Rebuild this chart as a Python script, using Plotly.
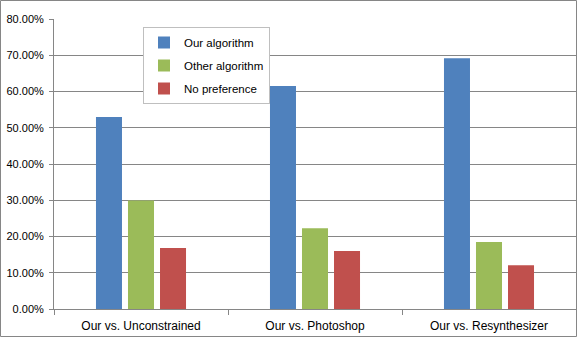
import plotly.graph_objects as go

categories = ["Our vs. Unconstrained", "Our vs. Photoshop", "Our vs. Resynthesizer"]
our_algorithm = [0.530, 0.615, 0.692]
other_algorithm = [0.299, 0.223, 0.185]
no_preference = [0.168, 0.160, 0.121]
y_ticks = [0, 0.1, 0.2, 0.3, 0.4, 0.5, 0.6, 0.7, 0.8]

series = [
    ("Our algorithm", our_algorithm, "#4F81BD"),
    ("Other algorithm", other_algorithm, "#9BBB59"),
    ("No preference", no_preference, "#C0504D"),
]

fig = go.Figure()
for name, vals, color in series:
    fig.add_trace(go.Bar(x=categories, y=vals, name=name, marker_color=color,
                         marker_line_width=0, legendgroup=name))

W, H = 577, 337
L, R, T, B = 54, 1, 19, 28
pw, ph = W - L - R, H - T - B

fig.update_layout(
    width=W, height=H,
    margin=dict(l=L, r=R, t=T, b=B),
    paper_bgcolor="white", plot_bgcolor="white",
    barmode="group", bargap=0.448, bargroupgap=0.1875,
    font=dict(family="Liberation Sans, Arial", size=11, color="#000000"),
    showlegend=True,
    legend=dict(
        x=(143 - L) / pw, y=(309 - 27) / ph, xanchor="left", yanchor="top",
        bgcolor="white", bordercolor="#BFBFBF", borderwidth=1,
        font=dict(size=11.5), traceorder="grouped", tracegroupgap=4,
        itemwidth=30,
    ),
    xaxis=dict(
        type="category", showgrid=False, showline=True, linecolor="#868686",
        linewidth=1, ticks="outside", ticklen=5, tickcolor="#868686",
        tickson="boundaries", tickfont=dict(size=12), ticklabelstandoff=6,
    ),
    yaxis=dict(
        range=[0, 0.8], tickvals=y_ticks, tickformat=".2%",
        showgrid=True, gridcolor="#868686", gridwidth=1,
        showline=True, linecolor="#868686", linewidth=1,
        ticks="outside", ticklen=4, tickcolor="#868686",
        zeroline=False, tickfont=dict(size=11), ticklabelstandoff=3,
    ),
    shapes=[dict(
        type="rect", xref="paper", yref="paper",
        x0=(0.5 - L) / pw, x1=1 + (R - 0.5) / pw,
        y0=-(B - 0.5) / ph, y1=1 + (T - 0.5) / ph,
        line=dict(color="#868686", width=1), fillcolor="rgba(0,0,0,0)",
        layer="above",
    )],
)

fig.write_html("out.html")
